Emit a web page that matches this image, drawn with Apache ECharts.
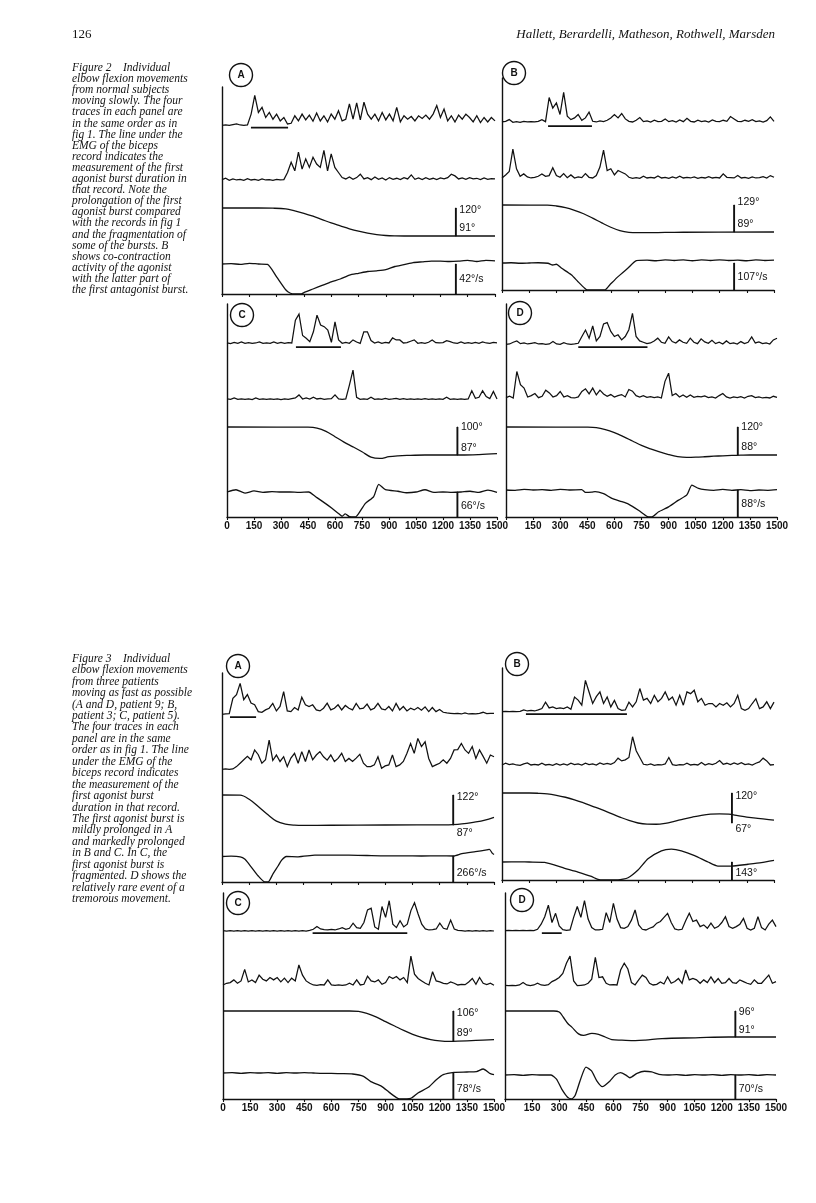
<!DOCTYPE html>
<html><head><meta charset="utf-8">
<script src="https://cdn.jsdelivr.net/npm/echarts@6/dist/echarts.min.js"></script>
<style>html,body{margin:0;padding:0;background:#fff}#c{width:816px;height:1203px}</style>
</head><body><div id="c"></div>
<script>
// ---------- shared ----------
const TIME_TICKS = [0,150,300,450,600,750,900,1050,1200,1350,1500];
const EMG_STEP_MS = 20; // EMG samples every 20 ms, 0..1500

// ---------- Figure 2 ----------
const F2A_BIC = [0.2,0.3,0.2,0.4,0.6,0.3,0.2,0.3, 3.5,9.0,4.0,5.5,2.5,4.0,2.0,3.5, 1.5,2.5,0.6,0.8,3.0,1.5,3.5,1.8, 3.2,1.4,3.8,1.5,3.0,1.2,3.5,2.0, 4.5,1.5,2.0,6.5,2.0,6.8,1.8,7.0, 3.5,2.0,3.5,1.5,4.0,1.8,3.5,1.5, 5.5,1.2,3.0,2.0,2.8,1.5,3.0,2.2, 3.2,2.0,3.5,6.0,2.5,5.0,1.5,3.0, 1.2,3.2,2.0,3.5,2.5,1.2,3.0,1.0, 2.5,1.2,2.5,1.5];
const F2A_TRI = [0.4,0.8,0.2,0.6,0.3,0.5,0.2,0.7, 0.3,0.5,0.2,0.6,0.3,0.4,0.2,0.5, 0.3,0.4,2.5,5.5,3.0,8.5,3.5,6.5, 4.0,7.0,5.0,4.0,9.0,3.0,8.0,4.0, 2.5,1.0,0.6,1.2,0.5,1.0,2.0,0.6, 1.0,0.4,1.2,0.5,0.9,0.3,1.0,0.5, 0.8,0.4,1.0,0.6,1.8,0.5,0.9,0.4, 1.0,0.5,0.8,0.4,0.9,0.6,1.0,2.0, 1.5,0.6,0.9,0.5,1.0,0.6,0.8,0.4, 0.9,0.5,0.7,0.6];
const F2A_POS = [[0,120],[100,120],[200,120],[280,119.8],[350,119],[400,117],[450,114.5],[500,111.5],[550,108],[600,104.5],[650,101.5],[700,98.5],[750,96],[800,94],[850,92.5],[900,91.5],[950,91.1],[1000,91],[1500,91]];
const F2A_VEL = [[0,0],[50,0.5],[100,-0.5],[150,1],[200,0],[250,-0.5],[300,-18],[350,-36],[376,-41],[400,-42],[436,-42],[450,-40],[500,-35],[550,-30],[600,-25],[650,-21],[700,-15.5],[750,-13],[800,-10.5],[850,-9.5],[900,-8],[950,-3.5],[1000,-1],[1050,2],[1100,3],[1150,4],[1200,4],[1250,3.5],[1300,4],[1350,5],[1400,3.5],[1450,5],[1500,4.5]];
const F2A_CAL = [1285, 120, 91, 42];   // time, position top, position bottom, velocity
const F2A_BURST = [159, 363];

const F2B_BIC = [0.3,0.5,1.0,0.2,0.4,0.2,0.5,0.3, 0.4,0.3,0.5,1.0,0.4,7.5,4.4,5.9, 2.5,9.0,2.0,1.0,1.5,2.5,0.8,1.5, 3.2,0.5,0.3,0.6,0.4,0.8,1.5,2.5, 1.5,2.8,1.2,0.5,0.3,0.8,1.6,0.4, 0.6,0.3,0.8,0.4,0.5,1.2,0.4,0.7, 0.3,0.9,0.4,1.4,0.5,0.3,0.8,0.4, 0.6,0.3,0.9,0.5,0.4,0.8,0.5,1.9, 1.2,0.5,0.4,0.8,0.5,1.0,0.4,0.6, 0.3,0.7,1.8,0.5];
const F2B_TRI = [0.3,1.2,2.2,8.8,3.0,0.8,1.5,0.6, 0.3,0.5,0.8,1.5,0.8,1.0,3.3,1.0, 0.5,1.6,0.4,1.2,0.3,0.6,0.4,1.6, 0.5,0.3,1.0,3.5,8.5,2.5,3.0,1.2, 2.5,2.0,1.5,0.5,0.2,0.4,0.2,0.8, 0.3,0.5,0.3,0.9,0.3,0.5,0.2,0.6, 0.3,0.8,0.3,0.5,0.3,0.6,0.2,0.5, 0.3,0.7,0.3,0.5,0.3,1.5,0.5,0.4, 0.3,1.0,0.3,0.5,0.2,0.6,0.3,0.4, 0.7,0.3,1.0,0.5];
const F2B_POS = [[0,129],[250,128.8],[300,127.5],[350,125],[400,121],[450,116],[500,109.5],[550,102.5],[600,96],[650,91],[700,88.5],[750,88],[800,88],[900,88.4],[1000,88.6],[1500,89]];
const F2B_VEL = [[0,0],[50,1],[100,-1],[150,0],[200,1],[254,-1],[280,-8],[300,-5],[327,-20],[382,-47],[419,-74],[456,-100],[470,-107],[566,-107],[594,-87],[640,-54],[695,-20],[741,9],[800,11],[850,9],[900,12],[950,10],[1000,12],[1050,9],[1100,12],[1150,10],[1200,12],[1250,10],[1300,11],[1350,9],[1400,12],[1450,10],[1500,11]];
const F2B_CAL = [1280, 129, 89, 107];
const F2B_BURST = [254, 496];

const F2C_BIC = [0.3,0.1,0.5,0.2,0.6,0.2,0.4,0.2, 0.3,0.6,0.2,0.3,0.2,0.6,0.2,0.5, 0.2,0.4,0.3, 7.0,8.8,2.5,1.7,0.7,3.6,8.5,5.6,5.1,4.1,0.5,6.5,1.2,0.2, 0.5,0.2,1.2,0.6,0.2,3.6,3.6, 1.0,0.3,0.6,0.2,0.5,0.3,1.8,1.2, 1.2,0.3,0.4,0.8,1.2,0.2,0.4,0.2, 0.5,1.2,0.4,0.3,0.4,1.0,0.7,0.3, 0.2,0.6,0.2,0.4,0.2,0.5,0.2,0.6, 0.3,0.2,0.5,0.3];
const F2C_TRI = [0.3,0.2,0.6,0.2,0.3,0.2,0.3,0.1, 0.6,0.2,0.3,0.2,0.3,0.2,0.3,0.1, 0.3,0.2,0.4,0.6,1.5,0.3,0.6,0.3, 0.8,0.3,0.5,0.2,0.3,0.4,1.5,0.3, 0.2,0.3,4.4,8.8,0.8,0.2,0.3,0.2, 0.8,0.2,0.3,0.2,0.5,0.2,0.3,0.5, 0.2,0.4,0.2,0.3,0.2,0.3,0.2,0.4, 0.2,0.3,0.2,0.3,0.2,0.8,0.2,0.3, 0.2,0.3,0.2,0.3,2.7,0.5,0.8,2.7, 1.0,0.4,2.5,0.3];
const F2C_POS = [[0,100],[450,99.9],[500,99.5],[550,98],[600,95.5],[650,93],[700,90.8],[750,88.5],[800,86],[850,85.4],[900,86.2],[950,86.6],[1000,86.8],[1100,87],[1300,87],[1400,87.2],[1500,87.6]];
const F2C_VEL = [[0,0],[50,6],[100,-3],[150,3],[200,-1],[250,1],[300,0],[350,0],[400,-1],[454,0],[491,-12],[546,-30],[583,-43],[620,-57],[639,-64],[657,-58],[680,-65],[713,-66],[731,-57],[769,-30],[815,-12],[843,20],[880,6],[950,2],[1000,-2],[1050,0],[1100,6],[1150,-1],[1200,0],[1250,-1],[1300,0],[1350,2],[1400,-1],[1450,5],[1500,-1]];
const F2C_CAL = [1280, 100, 87, 66];
const F2C_BURST = [383, 633];

const F2D_BIC = [0.2,0.3,0.8,1.2,0.4,0.6,0.3,0.5, 0.7,0.3,0.4,0.2,0.3,1.0,0.3,0.2, 0.7,0.3,0.2,0.3,0.5,2.5,4.4,2.0, 5.6,1.2,2.5,6.2,6.6,4.0,2.5,3.0, 1.5,2.5,4.5,9.3,2.5,1.2,0.8,0.4, 0.6,1.2,2.0,0.8,0.5,2.4,1.0,0.6, 1.5,0.8,0.5,2.0,0.8,0.4,1.8,0.9, 0.5,1.4,0.4,0.8,0.3,1.2,0.4,0.6, 0.3,1.0,0.4,0.8,2.4,0.6,0.9,0.4, 0.6,0.3,1.5,2.0];
const F2D_TRI = [0.4,0.8,0.3,8.1,4.2,3.2,0.6,1.0, 1.6,0.4,0.8,2.6,1.8,0.6,1.0,2.2, 0.6,1.0,0.4,0.3,0.6,2.2,3.0,1.5, 3.2,1.2,2.6,1.5,0.8,1.3,0.6,1.0, 1.3,0.6,2.8,2.3,1.0,0.6,1.0,0.5, 0.7,0.4,0.6,0.3,5.2,7.6,1.0,1.6, 0.6,1.2,0.5,1.2,0.5,0.8,0.6,0.9, 0.4,0.6,0.3,1.0,1.6,0.6,0.3,0.6, 0.4,0.7,0.3,0.8,1.0,0.4,0.6,0.3, 0.5,0.3,0.8,0.5];
const F2D_POS = [[0,120],[450,119.8],[500,119.3],[550,117],[600,113.5],[650,109],[700,104],[750,99],[800,95],[850,91.5],[900,88.5],[950,86.2],[1000,85.3],[1050,85.5],[1100,86],[1150,86.6],[1200,87.1],[1250,87.5],[1300,87.8],[1350,88],[1500,88]];
const F2D_VEL = [[0,0],[50,-1],[100,2],[150,0],[200,1],[250,-1],[300,2],[350,0],[419,1],[440,-8],[475,-7],[493,-5],[540,-12],[586,-27],[630,-36],[678,-46],[733,-66],[770,-82],[789,-88],[807,-88],[845,-71],[900,-55],[955,-33],[1001,-16],[1029,16],[1066,5],[1100,1],[1150,-1],[1200,2],[1250,-1],[1300,1],[1350,-2],[1400,0],[1450,-1],[1500,1]];
const F2D_CAL = [1283, 120, 88, 88];
const F2D_BURST = [400, 783];

// ---------- Figure 3 ----------
const F3A_BIC = [0.2,0.3,0.4,4.9,6.0,9.3,4.5,6.0, 3.5,3.0,1.0,0.8,1.5,2.0,3.4,1.2, 2.5,6.9,1.2,1.0,2.2,1.5,5.2,3.0, 2.5,3.0,1.5,1.2,2.0,3.5,1.5,2.0, 3.0,1.5,2.8,2.0,1.5,3.4,1.8,2.0, 3.2,1.5,2.0,3.4,1.8,1.5,2.5,1.2, 3.4,1.5,2.5,1.2,2.0,1.5,2.2,1.4, 2.4,1.0,2.2,1.0,1.6,0.8,0.6,0.5, 0.4,0.5,0.3,0.6,0.3,0.4,0.3,0.5, 0.8,0.4,0.5,0.5];
const F3A_TRI = [0.2,0.3,0.2,0.3,1.0,2.0,3.0,4.0, 3.0,5.9,4.5,2.0,3.0,8.8,2.8,4.4, 2.5,3.9,1.0,3.5,4.9,2.0,5.4,2.5, 5.9,3.0,4.4,5.4,3.9,2.9,4.4,2.5, 3.4,4.9,2.5,3.4,2.5,3.5,4.6,2.0, 1.0,1.0,1.5,3.9,0.5,1.2,1.5,4.4, 1.0,1.5,2.5,4.9,7.8,4.9,9.3,6.9, 8.3,3.4,1.0,1.5,2.0,3.0,2.0,3.4, 5.9,6.0,7.8,5.9,4.9,6.9,3.4,5.9, 4.0,2.0,4.4,3.9];
const F3A_POS = [[0,122],[100,121.8],[150,117],[200,108.5],[250,99.5],[300,91.5],[350,88],[400,86.8],[450,86.5],[600,86.7],[900,87],[1250,87.2],[1300,87.8],[1350,89],[1400,90.6],[1450,92.8],[1500,96]];
const F3A_VEL = [[0,-5],[50,-2],[100,-8],[125,-30],[150,-85],[200,-205],[236,-266],[254,-266],[282,-180],[310,-100],[328,-45],[355,-5],[420,-8],[512,8],[600,9],[700,8],[800,5],[900,2],[1000,2],[1100,0],[1200,1],[1277,0],[1323,25],[1397,45],[1460,62],[1475,68],[1490,30],[1500,15]];
const F3A_CAL = [1275, 122, 87, 266];
const F3A_BURST = [44, 188];

const F3B_BIC = [0.1,0.2,0.1,0.2,0.1,0.2,0.6,0.3, 0.5,0.3,0.6,1.0,2.9,1.2,1.5,1.0, 1.2,1.0,1.5,0.8,4.4,3.5,2.0,9.3, 5.9,2.5,4.5,5.9,2.5,4.4,1.5,3.4, 1.0,0.5,0.6,2.9,1.5,3.0,6.9,3.5, 4.0,2.5,4.9,3.0,4.0,5.9,3.5,4.4, 2.0,4.9,2.0,5.9,5.4,6.4,3.0,4.0, 2.0,2.5,2.5,1.5,2.5,2.0,2.7,1.5, 2.5,4.9,1.0,0.5,1.0,2.5,3.9,1.0, 1.5,3.0,1.0,2.9];
const F3B_TRI = [0.3,0.8,0.4,0.6,0.3,0.2,0.6,0.9, 0.3,0.5,0.3,0.8,0.3,0.5,0.2,0.7, 0.3,0.6,0.3,0.8,0.4,0.6,0.3,0.8, 0.4,0.6,0.3,0.9,0.5,0.8,0.5,1.0, 2.3,1.5,1.8,2.5,8.6,4.5,2.5,0.5, 0.3,0.6,0.2,0.4,0.3,0.6,2.5,0.4, 0.2,0.4,0.3,0.8,0.3,0.5,0.3,1.0, 0.3,0.7,0.4,0.8,1.6,0.5,0.8,0.4, 0.9,0.5,1.0,0.4,0.6,0.3,0.8,1.2, 2.3,1.5,0.3,0.4];
const F3B_POS = [[0,120],[150,120],[200,119.5],[250,118.5],[300,116],[350,112.5],[400,108],[450,102.5],[500,96.5],[550,90.5],[600,84],[650,77.5],[700,71.5],[750,67],[800,65],[850,64.8],[900,66.5],[950,70],[1000,74],[1050,77.5],[1100,80.5],[1150,82.5],[1200,83.2],[1250,82.5],[1300,80],[1350,77.5],[1400,75.5],[1450,74],[1500,72]];
const F3B_VEL = [[0,0],[100,1],[150,0],[235,-3],[346,-50],[419,-80],[493,-115],[529,-138],[560,-143],[640,-143],[695,-125],[750,-64],[805,25],[879,89],[934,102],[989,89],[1062,51],[1136,0],[1191,-33],[1265,-33],[1357,-18],[1430,-5],[1500,13]];
const F3B_CAL = [1268, 120, 67, 143];
const F3B_BURST = [132, 689];

const F3C_BIC = [0.1,0,0.1,0,0.1,0,0.1,0, 0.1,0,0.1,0,0.1,0,0.1,0, 0.1,0,0.1,0,0.1,0,0.1,0, 0.2,0.5,1.3,0.6,0.4,0.3,0.5,0.3, 0.6,1.0,0.5,0.8,2.3,1.0,0.8,2.5, 6.2,6.7,1.2,0.5,7.2,4.0,8.9,2.0, 1.0,3.0,1.2,2.0,6.0,8.3,5.0,2.0, 0.6,0.3,0.4,0.6,2.3,0.8,0.5,3.2, 0.6,0.2,0.1,0,0.1,0,0.1,0, 0.1,0,0.1,0];
const F3C_TRI = [0.3,0.8,1.0,1.8,0.8,1.5,4.9,1.2, 1.8,1.0,3.2,2.0,1.5,2.5,1.8,2.5, 1.2,2.3,1.0,2.3,1.5,6.2,3.2,1.5, 0.8,0.3,0.2,0.4,0.3,1.8,0.3,0.2, 0.3,0.2,0.3,0.8,0.3,1.8,0.3,0.5, 2.9,1.5,1.2,1.8,0.5,1.0,2.8,2.2, 2.8,1.8,2.5,1.0,8.8,3.5,2.2,1.5, 0.8,0.3,4.2,1.5,1.2,0.8,0.6,1.2, 0.8,0.3,0.5,0.4,1.2,2.2,0.5,2.5, 0.8,0.4,0.8,0.2];
const F3C_POS = [[0,106],[700,106],[750,105.8],[800,104.5],[850,102.5],[900,100],[950,97.5],[1000,95],[1050,92.8],[1100,91],[1150,89.8],[1200,89.1],[1250,88.8],[1300,88.9],[1400,89.3],[1500,89.8]];
const F3C_VEL = [[0,0],[50,1],[100,-1],[150,1],[200,0],[250,1],[300,-1],[350,1],[400,0],[450,1],[500,0],[550,-1],[600,-1],[650,-2],[718,-3],[778,-10],[818,-26],[878,-40],[918,-57],[958,-73],[978,-78],[1039,-76],[1079,-60],[1139,-42],[1179,-21],[1219,-5],[1279,2],[1350,3],[1403,4],[1440,12],[1480,-2],[1500,-5]];
const F3C_CAL = [1275, 106, 89, 78];
const F3C_BURST = [496, 1020];

const F3D_BIC = [0.1,0.2,0.1,0.2,0.1,0.2,0.1,0.2, 0.1,0.5,2.0,4.2,7.6,2.5,5.2,1.5, 0.4,0.2,0.3,4.0,7.2,4.0,8.9,3.5, 1.0,0.3,0.3,0.5,5.4,2.5,8.1,3.5, 1.0,0.8,1.3,3.2,6.2,1.8,0.5,0.3, 0.8,1.2,2.3,2.8,4.0,5.2,2.5,0.6, 0.3,0.5,3.0,5.2,2.8,3.2,1.3,1.8, 0.8,2.3,0.8,1.3,2.5,4.2,1.3,0.8, 1.3,2.0,3.7,0.8,0.3,0.8,4.2,1.0, 0.3,2.0,3.2,1.3];
const F3D_TRI = [0.2,0.1,0.2,0.1,0.3,1.0,0.3,0.1, 0.3,0.8,0.3,0.2,0.4,1.3,1.8,2.5, 3.7,6.7,8.8,1.5,0.1,0.2,0.3,0.8, 2.0,8.4,2.5,2.7,0.8,0.3,0.4,0.3, 4.7,6.7,5.0,1.0,0.3,1.8,3.2,2.5, 0.8,0.3,0.5,1.2,0.6,2.7,0.8,1.3, 2.2,0.8,4.7,1.8,2.2,1.8,0.8,1.8, 1.0,2.7,1.0,2.2,0.8,1.0,2.2,1.0, 0.8,1.8,1.3,0.8,0.5,1.8,0.8,0.8, 2.0,3.2,0.8,1.3];
const F3D_POS = [[0,96],[270,96],[300,95.8],[323,94.8],[350,93.5],[370,92.9],[407,91.6],[434,91.3],[481,91.7],[518,91.5],[555,91],[591,90.5],[647,90.4],[721,90.3],[776,90.4],[869,90.7],[1053,90.85],[1238,91],[1500,91]];
const F3D_VEL = [[0,0],[50,1],[100,-1],[150,1],[200,0],[255,0],[285,-12],[315,-42],[345,-64],[368,-70],[388,-60],[418,-13],[448,23],[479,12],[509,-18],[539,-34],[580,-18],[610,0],[640,7],[671,-1],[691,-8],[731,5],[772,11],[812,9],[852,2],[900,0],[950,1],[1000,-1],[1050,1],[1100,0],[1150,1],[1200,-1],[1250,1],[1300,0],[1350,1],[1400,-1],[1450,1],[1500,0]];
const F3D_CAL = [1275, 96, 91, 70];
const F3D_BURST = [204, 314];

// ---------- texts ----------
const PAGE_NUMBER = '126';
const RUNNING_HEAD = 'Hallett, Berardelli, Matheson, Rothwell, Marsden';
const FIG2_CAPTION = ['Figure 2    Individual','elbow flexion movements','from normal subjects','moving slowly. The four','traces in each panel are','in the same order as in','fig 1. The line under the','EMG of the biceps','record indicates the','measurement of the first','agonist burst duration in','that record. Note the','prolongation of the first','agonist burst compared','with the records in fig 1','and the fragmentation of','some of the bursts. B','shows co-contraction','activity of the agonist','with the latter part of','the first antagonist burst.'];
const FIG3_CAPTION = ['Figure 3    Individual','elbow flexion movements','from three patients','moving as fast as possible','(A and D, patient 9; B,','patient 3; C, patient 5).','The four traces in each','panel are in the same','order as in fig 1. The line','under the EMG of the','biceps record indicates','the measurement of the','first agonist burst','duration in that record.','The first agonist burst is','mildly prolonged in A','and markedly prolonged','in B and C. In C, the','first agonist burst is','fragmented. D shows the','relatively rare event of a','tremorous movement.'];

// ---------- layout (pixels) ----------
const INK = '#111111';
const SANS = '"Liberation Sans", Arial, sans-serif';
const SERIF = '"Liberation Serif", "Times New Roman", serif';

const PANELS = [
 {letter:'A', bic:F2A_BIC, tri:F2A_TRI, pos:F2A_POS, vel:F2A_VEL, cal:F2A_CAL, burst:F2A_BURST, velUnit:'°/s',
  g:{left:222,right:495,top:87,bic:126,tri:181,posTop:208,posBot:236,vel:264,axis:294,labels:false,zero:true,circle:[241,75],lt:2,lb:-8,lv:-15,bu:-0.5}},
 {letter:'B', bic:F2B_BIC, tri:F2B_TRI, pos:F2B_POS, vel:F2B_VEL, cal:F2B_CAL, burst:F2B_BURST, velUnit:'°/s',
  g:{left:502,right:774,top:78,bic:123,tri:179,posTop:205,posBot:232,vel:263,axis:290,labels:false,zero:false,circle:[514,73],lt:-3,lb:-8,lv:-13,bu:-0.9}},
 {letter:'C', bic:F2C_BIC, tri:F2C_TRI, pos:F2C_POS, vel:F2C_VEL, cal:F2C_CAL, burst:F2C_BURST, velUnit:'°/s',
  g:{left:227,right:497,top:304,bic:344,tri:400,posTop:427,posBot:455,vel:492,axis:517,labels:true,zero:true,circle:[242,315],lt:0,lb:-7,lv:-11,bu:-0.9}},
 {letter:'D', bic:F2D_BIC, tri:F2D_TRI, pos:F2D_POS, vel:F2D_VEL, cal:F2D_CAL, burst:F2D_BURST, velUnit:'°/s',
  g:{left:506,right:777,top:304,bic:345,tri:399,posTop:427,posBot:455,vel:490,axis:517,labels:true,zero:false,circle:[520,313],lt:0,lb:-8,lv:-13,bu:-0.6}},
 {letter:'A', bic:F3A_BIC, tri:F3A_TRI, pos:F3A_POS, vel:F3A_VEL, cal:F3A_CAL, burst:F3A_BURST, velUnit:'°/s',
  g:{left:222,right:494,top:673,bic:715,tri:770,posTop:795,posBot:825,vel:856,axis:882,labels:false,zero:true,circle:[238,666],lt:2,lb:8,lv:-9,bu:-0.6}},
 {letter:'B', bic:F3B_BIC, tri:F3B_TRI, pos:F3B_POS, vel:F3B_VEL, cal:F3B_CAL, burst:F3B_BURST, velUnit:'°',
  g:{left:502,right:774,top:668,bic:712,tri:766,posTop:793,posBot:823,vel:862,axis:880,labels:false,zero:false,circle:[517,664],lt:3,lb:6,lv:-7,bu:-0.6}},
 {letter:'C', bic:F3C_BIC, tri:F3C_TRI, pos:F3C_POS, vel:F3C_VEL, cal:F3C_CAL, burst:F3C_BURST, velUnit:'°/s',
  g:{left:223,right:494,top:893,bic:931,tri:986,posTop:1011,posBot:1041,vel:1073,axis:1099,labels:true,zero:true,circle:[238,903],lt:2,lb:-8,lv:-10,bu:-0.6}},
 {letter:'D', bic:F3D_BIC, tri:F3D_TRI, pos:F3D_POS, vel:F3D_VEL, cal:F3D_CAL, burst:F3D_BURST, velUnit:'°/s',
  g:{left:505,right:776,top:893,bic:931,tri:986,posTop:1011,posBot:1037,vel:1075,axis:1099,labels:true,zero:false,circle:[522,900],lt:1,lb:-7,lv:-10,bu:-0.6}}
];

const EMG_SPAN = 10;      // EMG units covering EMG_PX pixels
const EMG_PX = 34;

const option = {animation:false, backgroundColor:'#ffffff', grid:[], xAxis:[], yAxis:[], series:[], graphic:[]};

function addGrid(left, width, top, height, ymin, ymax) {
  const gi = option.grid.length;
  option.grid.push({left, top, width, height, containLabel:false, outerBoundsMode:'none'});
  option.xAxis.push({gridIndex:gi, type:'value', min:0, max:1500, show:false});
  option.yAxis.push({gridIndex:gi, type:'value', min:ymin, max:ymax, show:false});
  return gi;
}
function lineSeries(gi, data, width, smooth) {
  return {type:'line', xAxisIndex:gi, yAxisIndex:gi, data, symbol:'none', showSymbol:false,
    smooth: smooth || false, clip:false, silent:true, z:3,
    lineStyle:{color:INK, width:width, join:'miter', miterLimit:3}};
}
function calLabel(text, dy) {
  return {show:true, position:'right', distance:3, offset:[0, dy], formatter:text,
    color:INK, fontSize:10.5, fontFamily:SANS};
}

PANELS.forEach(p => {
  const g = p.g, w = g.right - g.left;
  // frame: left line + time axis
  const fi = option.grid.length;
  option.grid.push({left:g.left, top:g.top, width:w, height:g.axis - g.top, containLabel:false, outerBoundsMode:'none'});
  option.xAxis.push({gridIndex:fi, type:'value', min:0, max:1500, interval:150, position:'bottom',
    axisLine:{show:true, onZero:false, lineStyle:{color:INK, width:1.4}},
    axisTick:{show:true, length:3, customValues:TIME_TICKS, lineStyle:{color:INK, width:1.1}},
    axisLabel:{show:g.labels, customValues:TIME_TICKS, margin:4, color:INK, fontSize:10, fontWeight:'bold', fontFamily:SANS,
      formatter: v => (v === 0 && !g.zero) ? '' : String(v)},
    splitLine:{show:false}});
  option.yAxis.push({gridIndex:fi, type:'value', min:0, max:1, position:'left',
    axisLine:{show:true, onZero:false, lineStyle:{color:INK, width:1.4}},
    axisTick:{show:false}, axisLabel:{show:false}, splitLine:{show:false}});

  // biceps EMG
  const bi = addGrid(g.left, w, g.bic - EMG_PX, EMG_PX, 0, EMG_SPAN);
  option.series.push(lineSeries(bi, p.bic.map((v, i) => [i * EMG_STEP_MS, v]), 1.25));
  option.series.push(lineSeries(bi, [[p.burst[0], g.bu], [p.burst[1], g.bu]], 1.7));
  // triceps EMG
  const ti = addGrid(g.left, w, g.tri - EMG_PX, EMG_PX, 0, EMG_SPAN);
  option.series.push(lineSeries(ti, p.tri.map((v, i) => [i * EMG_STEP_MS, v]), 1.25));
  // position
  const [cx, pTop, pBot, vCal] = p.cal;
  const pi = addGrid(g.left, w, g.posTop, g.posBot - g.posTop, pBot, pTop);
  option.series.push(lineSeries(pi, p.pos, 1.3, 0.35));
  const posBar = lineSeries(pi, [
      {value:[cx, pTop], label:calLabel(pTop + '°', g.lt)},
      {value:[cx, pBot], label:calLabel(pBot + '°', g.lb)}], 1.9);
  posBar.symbol = 'circle'; posBar.symbolSize = 1; posBar.showSymbol = true; posBar.itemStyle = {color:INK};
  option.series.push(posBar);
  // velocity
  const vi = addGrid(g.left, w, g.vel, g.axis - g.vel, -vCal, 0);
  option.series.push(lineSeries(vi, p.vel, 1.3, 0.2));
  const velBar = lineSeries(vi, [
      {value:[cx, 0]},
      {value:[cx, -vCal], label:calLabel(vCal + p.velUnit, g.lv)}], 1.9);
  velBar.symbol = 'circle'; velBar.symbolSize = 1; velBar.showSymbol = true; velBar.itemStyle = {color:INK};
  option.series.push(velBar);

  // panel letter in a circle
  option.graphic.push({type:'circle', x:g.circle[0], y:g.circle[1], shape:{cx:0, cy:0, r:11.5},
    style:{fill:'none', stroke:INK, lineWidth:1.4}, silent:true});
  option.graphic.push({type:'text', x:g.circle[0], y:g.circle[1],
    style:{text:p.letter, font:'bold 10px ' + SANS, fill:INK, align:'center', verticalAlign:'middle',
      textAlign:'center', textVerticalAlign:'middle'}, silent:true});
});

// page header and captions
option.graphic.push({type:'text', x:72, y:35, style:{text:PAGE_NUMBER, font:'13px ' + SERIF, fill:INK,
  align:'left', verticalAlign:'middle', textAlign:'left', textVerticalAlign:'middle'}});
option.graphic.push({type:'text', x:775, y:35, style:{text:RUNNING_HEAD, font:'italic 13px ' + SERIF, fill:INK,
  align:'right', verticalAlign:'middle', textAlign:'right', textVerticalAlign:'middle'}});
option.graphic.push({type:'text', x:72, y:62.5, style:{text:FIG2_CAPTION.join('\n'), font:'italic 11.5px ' + SERIF,
  lineHeight:11.1, fill:INK, align:'left', verticalAlign:'top', textAlign:'left', textVerticalAlign:'top'}});
option.graphic.push({type:'text', x:72, y:653, style:{text:FIG3_CAPTION.join('\n'), font:'italic 11.5px ' + SERIF,
  lineHeight:11.45, fill:INK, align:'left', verticalAlign:'top', textAlign:'left', textVerticalAlign:'top'}});

const chart = echarts.init(document.getElementById('c'), null, {renderer:'canvas', width:816, height:1203});
chart.setOption(option);
</script>
</body></html>
